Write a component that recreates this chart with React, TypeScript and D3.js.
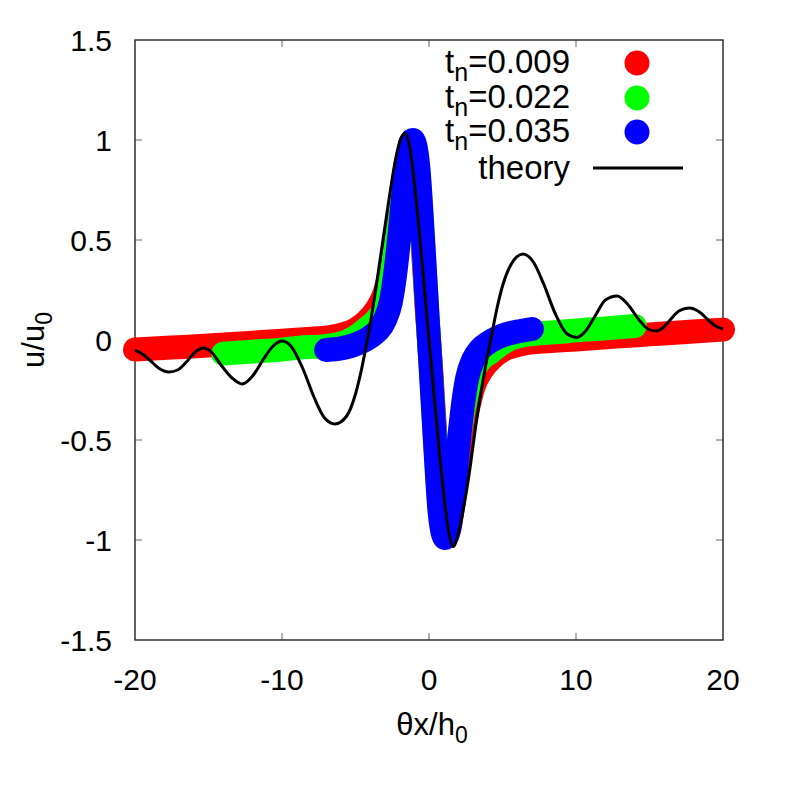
import React from "react";
import * as d3 from "d3";

const xTicks = [-20, -10, 0, 10, 20];
const yTicks = [-1.5, -1, -0.5, 0, 0.5, 1, 1.5];
const yTickLabels = ["-1.5", "-1", "-0.5", "0", "0.5", "1", "1.5"];

const legendNames = ["0.009", "0.022", "0.035"];
const seriesColors = ["#ff0000", "#00ff00", "#0000ff"];

// t_n = 0.009
const redSeries: [number, number][] = [
  [-20, -0.048], [-17.5, -0.038], [-15, -0.028], [-12.5, -0.016], [-10, -0.003],
  [-8.5, 0.004], [-7, 0.012], [-6, 0.026], [-5, 0.052], [-4.3, 0.09], [-3.6, 0.15],
  [-3.0, 0.24], [-2.6, 0.36], [-2.3, 0.5], [-2.0, 0.66], [-1.7, 0.83], [-1.4, 0.94],
  [-1.15, 0.97], [-0.8, 0.86], [-0.45, 0.5], [-0.15, 0.15], [0.15, -0.15], [0.45, -0.5],
  [0.8, -0.86], [1.15, -0.96], [1.4, -0.93], [1.7, -0.8], [2.0, -0.62], [2.3, -0.47],
  [2.6, -0.36], [3.0, -0.24], [3.6, -0.15], [4.3, -0.09], [5, -0.052], [6, -0.026],
  [7, -0.012], [8.5, -0.004], [10, 0.003], [12.5, 0.016], [15, 0.028], [17.5, 0.04],
  [20, 0.052],
];

// t_n = 0.022
const greenSeries: [number, number][] = [
  [-14, -0.068], [-12, -0.058], [-10, -0.048], [-8.8, -0.038], [-7.5, -0.033],
  [-6.5, -0.025], [-5.5, -0.005], [-4.9, 0.02], [-4.2, 0.06], [-3.5, 0.107],
  [-3.0, 0.17], [-2.6, 0.3], [-2.3, 0.45], [-2.0, 0.6], [-1.7, 0.8], [-1.4, 0.93],
  [-1.1, 0.97], [-0.75, 0.86], [-0.4, 0.48], [-0.1, 0.12], [0.1, -0.12], [0.4, -0.48],
  [0.75, -0.86], [1.1, -0.96], [1.4, -0.92], [1.7, -0.74], [2.0, -0.52], [2.3, -0.37],
  [2.6, -0.26], [3.0, -0.16], [3.5, -0.1], [4.2, -0.06], [4.9, -0.02], [5.5, 0.005],
  [6.5, 0.025], [7.5, 0.033], [8.8, 0.04], [10, 0.048], [12, 0.058], [14, 0.07],
];

// t_n = 0.035
const blueSeries: [number, number][] = [
  [-7, -0.05], [-6, -0.042], [-5.3, -0.03], [-4.6, -0.01], [-4.0, 0.015], [-3.5, 0.045],
  [-3.0, 0.1], [-2.6, 0.19], [-2.3, 0.33], [-2.0, 0.53], [-1.7, 0.76], [-1.4, 0.94],
  [-1.1, 1.0], [-0.75, 0.88], [-0.4, 0.5], [-0.1, 0.12], [0.1, -0.12], [0.4, -0.5],
  [0.75, -0.88], [1.1, -0.99], [1.4, -0.94], [1.7, -0.76], [2.0, -0.53], [2.3, -0.33],
  [2.6, -0.19], [3.0, -0.1], [3.5, -0.045], [4.0, -0.015], [4.6, 0.01], [5.3, 0.03],
  [6, 0.042], [7, 0.055],
];

// theory
const theorySeries: [number, number][] = [
  [-20, -0.05], [-19.5, -0.07], [-19.0, -0.1], [-18.4, -0.14], [-17.7, -0.16],
  [-17.1, -0.15], [-16.5, -0.11], [-15.9, -0.06], [-15.35, -0.04], [-14.8, -0.06],
  [-14.2, -0.12], [-13.4, -0.19], [-12.7, -0.22], [-12.0, -0.18], [-11.3, -0.1],
  [-10.6, -0.03], [-10.0, -0.005], [-9.4, -0.03], [-8.6, -0.14], [-7.8, -0.29],
  [-7.1, -0.39], [-6.4, -0.42], [-5.6, -0.38], [-5.0, -0.27], [-4.6, -0.15],
  [-4.2, 0.0], [-3.8, 0.17], [-3.33, 0.4], [-2.77, 0.68], [-2.2, 0.93], [-1.9, 1.01],
  [-1.6, 1.033], [-1.3, 0.96], [-0.9, 0.72], [-0.45, 0.37], [0, 0], [0.45, -0.36],
  [0.9, -0.7], [1.3, -0.94], [1.65, -1.033], [2.1, -0.93], [2.67, -0.7], [3.24, -0.4],
  [3.8, -0.15], [4.2, 0.0], [4.6, 0.15], [5.0, 0.27], [5.6, 0.38], [6.4, 0.43],
  [7.1, 0.39], [7.8, 0.28], [8.6, 0.13], [9.4, 0.03], [10.05, 0.013], [10.6, 0.04],
  [11.3, 0.12], [12.0, 0.2], [12.8, 0.22], [13.5, 0.18], [14.3, 0.1], [14.9, 0.055],
  [15.45, 0.045], [15.9, 0.06], [16.4, 0.1], [17.0, 0.145], [17.7, 0.16], [18.4, 0.14],
  [19.0, 0.1], [19.5, 0.07], [20, 0.055],
];

const W = 785;
const H = 785;
const left = 135;
const right = 723;
const top = 40;
const bottom = 640;

const FONT = "'Liberation Sans', Arial, Helvetica, sans-serif";

export default function App() {
  const x = d3.scaleLinear().domain([-20, 20]).range([left, right]);
  const y = d3.scaleLinear().domain([-1.5, 1.5]).range([bottom, top]);

  const line = d3
    .line<[number, number]>()
    .x((d) => x(d[0]))
    .y((d) => y(d[1]))
    .curve(d3.curveMonotoneX);

  const colored = [redSeries, greenSeries, blueSeries];
  const tickLen = 7;
  const tickColor = "#666";

  const legendX = 570;
  const legendRows = [73, 108, 142];
  const legendCircleX = 637;

  return (
    <svg
      width={W}
      height={H}
      style={{ position: "absolute", left: 0, top: 0, background: "#fff" }}
      fontFamily={FONT}
    >
      <rect x={0} y={0} width={W} height={H} fill="#fff" />

      {/* ticks */}
      {xTicks.slice(1, -1).map((t) => (
        <g key={"xt" + t}>
          <line x1={x(t)} x2={x(t)} y1={bottom} y2={bottom - tickLen} stroke={tickColor} strokeWidth={1} />
          <line x1={x(t)} x2={x(t)} y1={top} y2={top + tickLen} stroke={tickColor} strokeWidth={1} />
        </g>
      ))}
      {yTicks.slice(1, -1).map((t) => (
        <g key={"yt" + t}>
          <line x1={left} x2={left + tickLen} y1={y(t)} y2={y(t)} stroke={tickColor} strokeWidth={1} />
          <line x1={right} x2={right - tickLen} y1={y(t)} y2={y(t)} stroke={tickColor} strokeWidth={1} />
        </g>
      ))}

      {/* frame */}
      <rect x={left} y={top} width={right - left} height={bottom - top} fill="none" stroke="#222" strokeWidth={1.4} />

      {/* tick labels */}
      {yTicks.map((t, i) => (
        <text key={"yl" + t} x={112} y={y(t) + 10.5} fontSize={30} textAnchor="end" fill="#000">
          {yTickLabels[i]}
        </text>
      ))}
      {xTicks.map((t) => (
        <text key={"xl" + t} x={x(t)} y={690} fontSize={30} textAnchor="middle" fill="#000">
          {String(t)}
        </text>
      ))}

      {/* axis labels */}
      <text x={432} y={735} fontSize={31} textAnchor="middle" fill="#000">
        θx/h<tspan fontSize={23} dy={8}>0</tspan>
      </text>
      <text transform={`translate(44,340) rotate(-90)`} fontSize={31} textAnchor="middle" fill="#000">
        u/u<tspan fontSize={23} dy={8}>0</tspan>
      </text>

      {/* data */}
      {colored.map((s, i) => (
        <path
          key={"s" + i}
          d={line(s) || ""}
          fill="none"
          stroke={seriesColors[i]}
          strokeWidth={24}
          strokeLinecap="round"
          strokeLinejoin="round"
        />
      ))}
      <path d={line(theorySeries) || ""} fill="none" stroke="#000" strokeWidth={3} strokeLinejoin="round" />

      {/* legend */}
      {legendNames.map((n, i) => (
        <g key={"lg" + n}>
          <text x={legendX} y={legendRows[i]} fontSize={33} textAnchor="end" fill="#000">
            t<tspan fontSize={25} dy={8}>n</tspan>
            <tspan dy={-8}>={n}</tspan>
          </text>
          <circle cx={legendCircleX} cy={legendRows[i] - 10} r={12.5} fill={seriesColors[i]} />
        </g>
      ))}
      <text x={legendX} y={179} fontSize={33} textAnchor="end" fill="#000">
        theory
      </text>
      <line x1={593} x2={683} y1={168} y2={168} stroke="#000" strokeWidth={3} />
    </svg>
  );
}
